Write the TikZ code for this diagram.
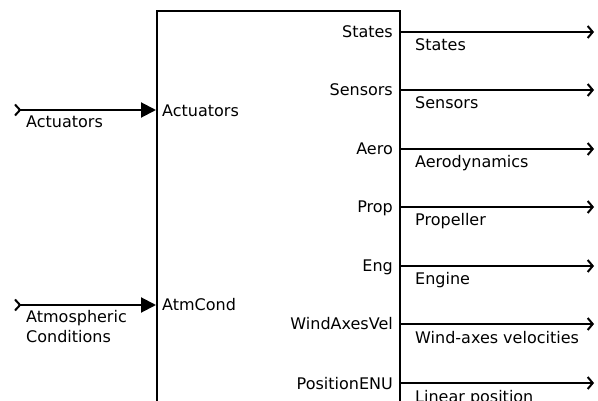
\documentclass[tikz,border=0pt]{standalone}
\usepackage{fontspec}
\setmainfont{DejaVu Sans}
\usetikzlibrary{arrows.meta,positioning}

\begin{document}
\begin{tikzpicture}[
    x=1pt, y=-1pt,
    font=\fontsize{16}{20}\selectfont,
    block/.style={
        rectangle,
        draw,
        line width=2pt,
        inner sep=0pt,
        anchor=north west,
        minimum width=243pt,
        minimum height=420pt
    },
    portlabel/.style={inner sep=0pt},
    siglabel/.style={inner sep=0pt, align=left},
    insig/.style={line width=2pt,
        {Straight Barb[reversed,length=5pt,width=11pt]}-{Triangle[length=15pt,width=15pt]}},
    outsig/.style={line width=2pt, -{Straight Barb[length=5pt,width=12pt]}}
]
    \useasboundingbox (0,0) rectangle (598,401);
    \clip (0,0) rectangle (598,401);

    \node[block] (plant) at (156,10) {};

    % inputs
    \coordinate (srcAct) at (14,110);
    \coordinate (inAct) at (156,110);
    \coordinate (srcAtm) at (14,305);
    \coordinate (inAtm) at (156,305);
    \draw[insig] (srcAct) -- (inAct);
    \draw[insig] (srcAtm) -- (inAtm);
    \node[portlabel, anchor=base west] (portAct) at (162,117) {Actuators};
    \node[portlabel, anchor=base west] (portAtm) at (162,311) {AtmCond};
    \node[siglabel, anchor=base west] (sigAct) at (26,128) {Actuators};
    \node[siglabel, anchor=north west] (sigAtm) at (26,310) {Atmospheric\\Conditions};

    % outputs
    \foreach \y/\port/\sig [count=\i] in {32/States/States, 90/Sensors/Sensors,
        149/Aero/Aerodynamics, 207/Prop/Propeller, 266/Eng/Engine,
        324/WindAxesVel/Wind-axes velocities, 383/PositionENU/Linear position}{
        \coordinate (out\i) at (399,\y);
        \coordinate (end\i) at (594,\y);
        \draw[outsig] (out\i) -- (end\i);
        \node[portlabel, anchor=base east] (port\i) at (393,\y+6) {\port};
        \node[siglabel, anchor=base west] (sig\i) at (415,\y+19) {\sig};
    }
\end{tikzpicture}
\end{document}
